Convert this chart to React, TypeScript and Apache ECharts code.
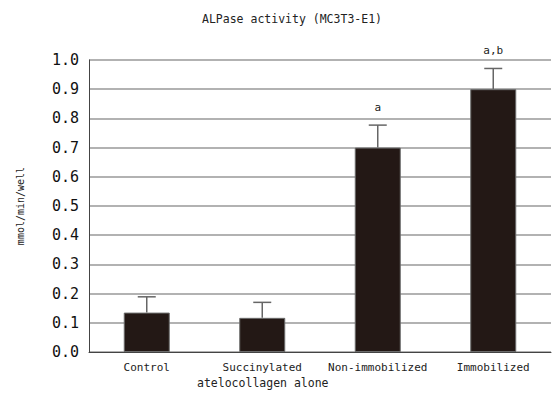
import React, { useEffect, useRef } from "react";
import * as echarts from "echarts";

const categories = ["Control", "Succinylated", "Non-immobilized", "Immobilized"];
const means = [0.135, 0.117, 0.70, 0.90];
const errorTops = [0.189, 0.170, 0.777, 0.971];
const annotations = ["", "", "a", "a,b"];
const titleText = "ALPase activity (MC3T3-E1)";
const yAxisName = "mmol/min/well";
const groupNote = "atelocollagen alone";

const MONO = "'DejaVu Sans Mono', 'Liberation Mono', monospace";

export default function App() {
  const ref = useRef<HTMLDivElement>(null);
  useEffect(() => {
    if (!ref.current) return;
    const chart = echarts.init(ref.current, null, { renderer: "svg" });
    const errData = categories.map((_, i) => [i, means[i], errorTops[i], annotations[i]]);
    chart.setOption({
      animation: false,
      backgroundColor: "#ffffff",
      title: {
        text: titleText,
        left: 287,
        top: 8,
        textAlign: "center",
        textStyle: { fontFamily: MONO, fontSize: 11.5, fontWeight: "normal", color: "#222" },
      },
      grid: { left: 89, right: 1, top: 60, bottom: 46 },
      xAxis: {
        type: "category",
        data: categories,
        axisLine: { lineStyle: { color: "#444", width: 1 } },
        axisTick: { inside: true, length: 8, lineStyle: { color: "#444", width: 1 } },
        axisLabel: {
          interval: 0,
          hideOverlap: false,
          fontFamily: MONO,
          fontSize: 11,
          color: "#222",
          margin: 10,
        },
      },
      yAxis: {
        type: "value",
        min: 0,
        max: 1,
        interval: 0.1,
        name: yAxisName,
        nameLocation: "middle",
        nameRotate: 90,
        nameGap: 64,
        nameTextStyle: { fontFamily: MONO, fontSize: 10, color: "#222" },
        axisLine: { show: true, lineStyle: { color: "#444", width: 1 } },
        axisTick: { show: false },
        axisLabel: {
          fontFamily: MONO,
          fontSize: 15,
          color: "#111",
          margin: 10,
          formatter: (v: number) => v.toFixed(1),
        },
        splitLine: { lineStyle: { color: "#999", width: 1.5 } },
      },
      series: [
        {
          type: "bar",
          data: means,
          barWidth: 46,
          itemStyle: { color: "#231815", borderColor: "#6b6b6b", borderWidth: 1 },
          z: 2,
        },
        {
          type: "custom",
          data: errData,
          z: 3,
          renderItem: (params: any, api: any) => {
            const i = api.value(0);
            const base = api.coord([i, api.value(1)]);
            const top = api.coord([i, api.value(2)]);
            const label = annotations[params.dataIndex];
            const children: any[] = [
              {
                type: "line",
                shape: { x1: top[0], y1: base[1], x2: top[0], y2: top[1] },
                style: { stroke: "#666", lineWidth: 1.5 },
              },
              {
                type: "line",
                shape: { x1: top[0] - 9, y1: top[1], x2: top[0] + 9, y2: top[1] },
                style: { stroke: "#666", lineWidth: 1.5 },
              },
            ];
            if (label) {
              children.push({
                type: "text",
                x: top[0],
                y: top[1] - 18,
                style: {
                  text: label,
                  fontFamily: MONO,
                  fontSize: 11,
                  fill: "#222",
                  align: "center",
                  verticalAlign: "middle",
                },
              });
            }
            return { type: "group", children };
          },
        },
      ],
      graphic: [
        {
          type: "text",
          left: 197,
          top: 377,
          style: { text: groupNote, fontFamily: MONO, fontSize: 11.5, fill: "#222" },
        },
      ],
    });
    return () => chart.dispose();
  }, []);
  return (
    <div
      ref={ref}
      style={{ position: "fixed", left: 0, top: 0, width: 552, height: 398, background: "#fff" }}
    />
  );
}
